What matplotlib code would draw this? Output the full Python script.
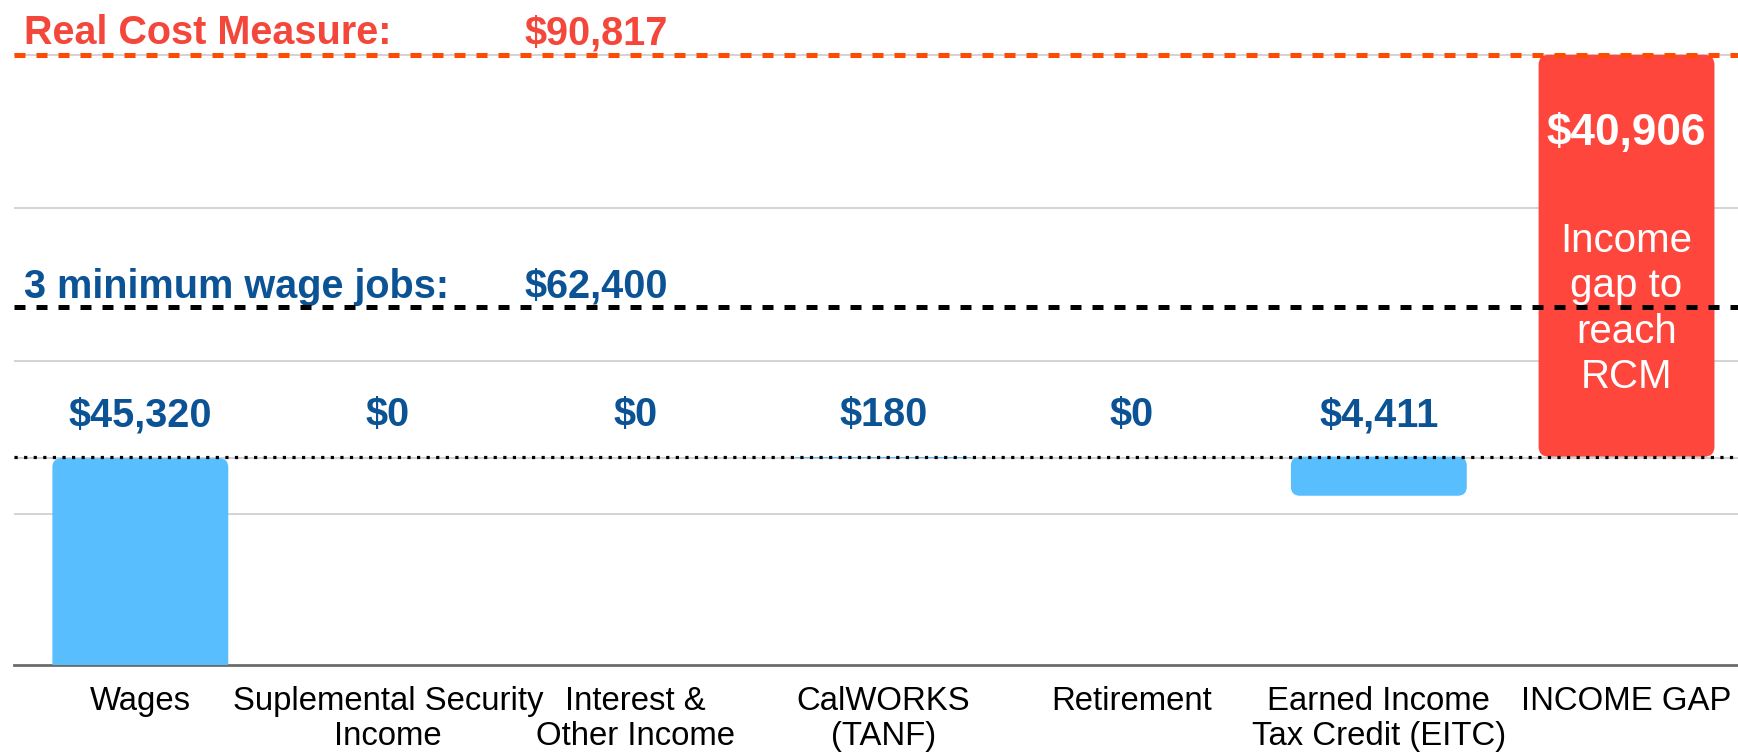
import matplotlib.pyplot as plt
from matplotlib.patches import FancyBboxPatch
import numpy as np

# --- datos ---
categorias = ["Wages", "Suplemental Security\nIncome", "Interest &\nOther Income",
              "CalWORKS\n(TANF)", "Retirement", "Earned Income\nTax Credit (EITC)", "INCOME GAP"]
ingresos = [45320, 0, 0, 180, 0, 4411]   # fuentes de ingreso (sin el gap)
real_cost = 90817
min_wage_jobs = 62400
income_gap = real_cost - sum(ingresos)

# --- estilo / escala ---
y_bottom, y_top = 22000, 97000
grid_step = 17250
ancho = 0.71

azul = "#59befe"
rojo = "#ff463c"
azul_osc = "#0b5394"
rojo_txt = "#f4473b"

plt.rcParams['font.family'] = ['Liberation Sans', 'DejaVu Sans']

W, H = 1738, 754
fig = plt.figure(figsize=(W / 100, H / 100), dpi=100)
ax_w = W - 14
ax = fig.add_axes([14 / W, 89 / H, ax_w / W, 665 / H])
x_lo, x_hi = -0.51, 6.45
ax.set_xlim(x_lo, x_hi)
ax.set_ylim(y_bottom, y_top)

# unidades de datos por pixel
px_x = (x_hi - x_lo) / ax_w
px_y = (y_top - y_bottom) / 665


def barra(x, bottom, height, color, r_px, z=3):
    p = FancyBboxPatch((x - ancho / 2, bottom), ancho, height,
                       boxstyle=f"round,pad=0,rounding_size={r_px * px_x}",
                       mutation_aspect=px_y / px_x, fc=color, ec="none", zorder=z)
    ax.add_patch(p)


xs = np.arange(len(categorias))

# gridlines
for g in np.arange(real_cost, y_bottom, -grid_step):
    ax.axhline(g, color="#cccccc", lw=1.2, zorder=0)

# barras
wages, ssi, interest, calworks, retire, eitc = ingresos
nivel = wages + calworks
ax.axhline(wages, color="#c8c8c8", lw=1.2, zorder=2)
barra(xs[0], 0, wages, azul, 9)
ax.bar(xs[3], calworks, bottom=wages, width=ancho, color=azul, zorder=3)
barra(xs[5], nivel - eitc, eitc, azul, 9)
barra(xs[6], nivel, real_cost - nivel, rojo, 10)

# lineas de referencia
ax.axhline(real_cost, color="#ff4a00", lw=3.6, dashes=(2.2, 2.2), zorder=4)
ax.axhline(min_wage_jobs, color="black", lw=3.6, dashes=(2.2, 2.2), zorder=4)
ax.axhline(nivel, color="black", lw=2.3, dashes=(1.0, 2.0), zorder=4)

# textos de referencia
tr = ("axes fraction", "data")
ax.annotate("Real Cost Measure:", xy=(0.0058, real_cost), xycoords=tr, xytext=(0, 7.5),
            textcoords="offset points", fontsize=28.5, fontweight="bold", color=rojo_txt,
            va="baseline", ha="left")
ax.annotate(f"${real_cost:,}", xy=(0.296, real_cost), xycoords=tr, xytext=(0, 7.5),
            textcoords="offset points", fontsize=28.5, fontweight="bold", color=rojo_txt,
            va="baseline", ha="left")
ax.annotate("3 minimum wage jobs:", xy=(0.0058, min_wage_jobs), xycoords=tr, xytext=(0, 6.5),
            textcoords="offset points", fontsize=28.5, fontweight="bold", color=azul_osc,
            va="baseline", ha="left")
ax.annotate(f"${min_wage_jobs:,}", xy=(0.296, min_wage_jobs), xycoords=tr, xytext=(0, 6.5),
            textcoords="offset points", fontsize=28.5, fontweight="bold", color=azul_osc,
            va="baseline", ha="left")

# etiquetas de valores
for x, v in zip(xs, ingresos):
    ax.annotate(f"${v:,}", xy=(x, nivel), xytext=(0, 22), textcoords="offset points",
                fontsize=28.5, fontweight="bold", color=azul_osc, va="baseline", ha="center")

ax.annotate(f"${income_gap:,}", xy=(xs[6], real_cost), xytext=(0, -57), textcoords="offset points",
            fontsize=31.8, fontweight="bold", color="white", va="center", ha="center", zorder=5)
ax.annotate("Income\ngap to\nreach\nRCM", xy=(xs[6], real_cost), xytext=(0, -183),
            textcoords="offset points", fontsize=29, color="white", va="center", ha="center",
            linespacing=1.24, zorder=5)

# ejes
ax.set_xticks(xs)
ax.set_xticklabels(categorias, fontsize=23.7, linespacing=1.16)
ax.tick_params(axis="x", length=0, pad=15)
ax.set_yticks([])
for s in ["top", "left", "right"]:
    ax.spines[s].set_visible(False)
ax.spines["bottom"].set_color("#6b6b6b")
ax.spines["bottom"].set_linewidth(2)

fig.savefig("out.png", dpi=100)
